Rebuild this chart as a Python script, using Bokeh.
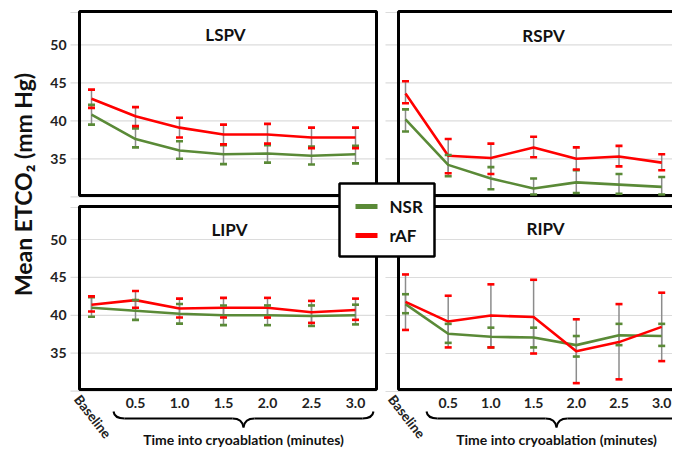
from bokeh.plotting import figure
from bokeh.models import Range1d
from bokeh.core.properties import value
from bokeh.embed import file_html
from bokeh.resources import INLINE

# ---------------- data ----------------
categories = ["Baseline", "0.5", "1.0", "1.5", "2.0", "2.5", "3.0"]
grid_values = [30, 35, 40, 45, 50]
y_tick_values = [35, 40, 45, 50]
y_tick_labels = ["35", "40", "45", "50"]
series_names = ["NSR", "rAF"]

lspv_nsr_mean = [40.8, 37.6, 36.1, 35.6, 35.7, 35.4, 35.6]
lspv_nsr_low = [39.5, 36.5, 35.0, 34.3, 34.5, 34.25, 34.4]
lspv_nsr_high = [42.1, 39.0, 37.3, 36.8, 36.8, 36.6, 36.7]
lspv_raf_mean = [42.9, 40.6, 39.1, 38.2, 38.2, 37.8, 37.8]
lspv_raf_low = [41.7, 39.3, 37.8, 36.9, 37.0, 36.4, 36.4]
lspv_raf_high = [44.1, 41.8, 40.4, 39.5, 39.6, 39.1, 39.1]

rspv_nsr_mean = [40.2, 34.2, 32.4, 31.1, 31.9, 31.6, 31.3]
rspv_nsr_low = [38.6, 32.7, 31.0, 30.3, 30.5, 30.4, 30.3]
rspv_nsr_high = [41.5, 35.5, 33.9, 32.4, 33.5, 33.0, 32.6]
rspv_raf_mean = [43.6, 35.4, 35.1, 36.5, 35.0, 35.3, 34.5]
rspv_raf_low = [42.3, 33.1, 33.0, 35.2, 33.6, 34.0, 33.5]
rspv_raf_high = [45.2, 37.6, 37.0, 37.9, 36.5, 36.7, 35.6]

lipv_nsr_mean = [41.0, 40.6, 40.2, 40.0, 40.0, 39.9, 40.0]
lipv_nsr_low = [39.8, 39.4, 38.9, 38.7, 38.7, 38.6, 38.8]
lipv_nsr_high = [42.4, 42.0, 41.5, 41.3, 41.3, 41.3, 41.4]
lipv_raf_mean = [41.4, 42.0, 40.9, 41.0, 41.0, 40.4, 40.7]
lipv_raf_low = [40.5, 41.0, 39.7, 39.7, 39.7, 39.0, 39.4]
lipv_raf_high = [42.5, 43.2, 42.2, 42.3, 42.3, 41.9, 42.2]

ripv_nsr_mean = [41.5, 37.6, 37.2, 37.1, 36.1, 37.4, 37.3]
ripv_nsr_low = [40.3, 36.4, 35.8, 35.8, 34.6, 36.1, 36.0]
ripv_nsr_high = [42.8, 38.9, 38.4, 38.4, 37.3, 38.9, 38.9]
ripv_raf_mean = [41.8, 39.2, 40.0, 39.8, 35.3, 36.5, 38.5]
ripv_raf_low = [38.1, 35.8, 35.8, 35.0, 31.1, 31.6, 34.0]
ripv_raf_high = [45.4, 42.6, 44.1, 44.7, 39.5, 41.5, 43.0]

# ---------------- styles / layout ----------------
FONT = value("Lato")
GREEN = "#5a8a37"
RED = "#ff0000"
WHISKER = "#8c8c8c"
GRID = "#dcdcdc"

X0, X1, YT, YB = 0, 672, 0, 448   # pixel extent of the canvas

p = figure(width=672, height=448, output_backend="svg", toolbar_location=None,
           x_range=Range1d(X0, X1), y_range=Range1d(YB, YT),
           x_axis_location=None, y_axis_location=None, min_border=0,
           outline_line_color=None, background_fill_color="white")
p.grid.visible = False

panels = [
    dict(key="lspv", title="LSPV", title_x=225, title_y=34, ix0=91, idx=44.0, y50=44.3, py=7.6,
         box=(79, 376, 11, 195), grid_left=70, left=True, bottom=False, brace_mid=243,
         data=(lspv_nsr_mean, lspv_nsr_low, lspv_nsr_high, lspv_raf_mean, lspv_raf_low, lspv_raf_high)),
    dict(key="rspv", title="RSPV", title_x=543, title_y=35, ix0=405, idx=42.7, y50=44.3, py=7.6,
         box=(398, 700, 11, 195), grid_left=385, left=False, bottom=False, brace_mid=563,
         data=(rspv_nsr_mean, rspv_nsr_low, rspv_nsr_high, rspv_raf_mean, rspv_raf_low, rspv_raf_high)),
    dict(key="lipv", title="LIPV", title_x=229, title_y=229, ix0=91, idx=44.0, y50=239.0, py=7.58,
         box=(79, 376, 206, 389), grid_left=70, left=True, bottom=True, brace_mid=243,
         data=(lipv_nsr_mean, lipv_nsr_low, lipv_nsr_high, lipv_raf_mean, lipv_raf_low, lipv_raf_high)),
    dict(key="ripv", title="RIPV", title_x=545, title_y=228, ix0=405, idx=42.7, y50=239.0, py=7.6,
         box=(398, 700, 206, 389), grid_left=385, left=False, bottom=True, brace_mid=556,
         data=(ripv_nsr_mean, ripv_nsr_low, ripv_nsr_high, ripv_raf_mean, ripv_raf_low, ripv_raf_high)),
]

xr_map, yr_map = {}, {}
for pn in panels:
    xr_map[pn["key"] + "_x"] = Range1d((X0 - pn["ix0"]) / pn["idx"], (X1 - pn["ix0"]) / pn["idx"])
    yr_map[pn["key"] + "_y"] = Range1d(50 - (YB - pn["y50"]) / pn["py"], 50 - (YT - pn["y50"]) / pn["py"])
p.extra_x_ranges = xr_map
p.extra_y_ranges = yr_map

xs = list(range(len(categories)))

for pn in panels:
    xn, yn = pn["key"] + "_x", pn["key"] + "_y"
    bl, br, bt, bb = pn["box"]
    # gridlines
    p.segment(x0=[pn["grid_left"]] * len(grid_values), x1=[br] * len(grid_values),
              y0=grid_values, y1=grid_values, y_range_name=yn, line_color=GRID, line_width=1.2)
    p.segment(x0=[pn["grid_left"]], x1=[br], y0=[bt + 1], y1=[bt + 1], line_color=GRID, line_width=1.2)
    # box
    p.quad(left=[bl], right=[br], top=[bt], bottom=[bb], fill_color=None,
           line_color="black", line_width=3)
    nm, nl, nh, rm, rl, rh = pn["data"]
    # whiskers
    for lo, hi in ((rl, rh), (nl, nh)):
        p.segment(x0=xs, x1=xs, y0=lo, y1=hi, x_range_name=xn, y_range_name=yn,
                  line_color=WHISKER, line_width=1.5)
    # lines
    p.line(xs, nm, x_range_name=xn, y_range_name=yn, line_color=GREEN, line_width=2.6)
    p.line(xs, rm, x_range_name=xn, y_range_name=yn, line_color=RED, line_width=2.6)
    # caps
    for lo, hi, col in ((nl, nh, GREEN), (rl, rh, RED)):
        p.scatter(xs + xs, list(lo) + list(hi), marker="dash", size=7, line_width=2.6,
                  line_color=col, x_range_name=xn, y_range_name=yn)
    # title
    p.text(x=[pn["title_x"]], y=[pn["title_y"]], text=[pn["title"]], text_font=FONT,
           text_font_style="bold", text_font_size="17px", text_align="center",
           text_baseline="middle", text_color="#111111")
    # y tick labels
    if pn["left"]:
        p.text(x=[66] * len(y_tick_values), y=y_tick_values, text=y_tick_labels,
               y_range_name=yn, text_font=FONT, text_font_style="bold",
               text_font_size="14px", text_align="right", text_baseline="middle",
               text_color="#222222")
    # x tick labels
    if pn["bottom"]:
        p.text(x=xs[1:], y=[402] * (len(xs) - 1), text=categories[1:], x_range_name=xn,
               text_font=FONT, text_font_style="bold", text_font_size="14px",
               text_align="center", text_baseline="middle", text_color="#222222")
        p.text(x=[xs[0] + 0.03], y=[416], text=[categories[0]], x_range_name=xn,
               text_font=FONT, text_font_style="bold", text_font_size="13.5px",
               text_align="center", text_baseline="middle", angle=-52, angle_units="deg",
               text_color="#222222")
        # brace
        xm = pn["brace_mid"]
        xl, xrr = xm - 130, xm + 130
        p.quadratic(x0=[xl, xm, xm, xrr], y0=[411, 427, 427, 411],
                    x1=[xl + 11, xm - 11, xm + 11, xrr - 11], y1=[418, 418, 418, 418],
                    cx=[xl + 1, xm - 1, xm + 1, xrr - 1], cy=[418, 418, 418, 418],
                    line_color="black", line_width=2)
        p.segment(x0=[xl + 11, xm + 11], x1=[xm - 11, xrr - 11], y0=[418, 418], y1=[418, 418],
                  line_color="black", line_width=2)
        p.text(x=[xm], y=[439], text=["Time into cryoablation (minutes)"], text_font=FONT,
               text_font_style="bold", text_font_size="14px", text_align="center",
               text_baseline="middle", text_color="#111111")

# y axis title
p.text(x=[22], y=[184], text=["Mean ETCO\u2082 (mm Hg)"], text_font=FONT, text_font_style="bold",
       text_font_size="23px", text_align="center", text_baseline="middle", angle=90,
       angle_units="deg", text_color="#111111")

# legend
p.quad(left=[339], right=[434], top=[183], bottom=[256], fill_color="white",
       line_color="black", line_width=2.5)
p.segment(x0=[355, 355], x1=[377, 377], y0=[206, 235], y1=[206, 235],
          line_color=[GREEN, RED], line_width=5)
p.text(x=[389, 389], y=[206, 235], text=series_names, text_font=FONT, text_font_style="bold",
       text_font_size="17px", text_align="left", text_baseline="middle", text_color="#111111")

open("out.html", "w").write(file_html(p, INLINE))
